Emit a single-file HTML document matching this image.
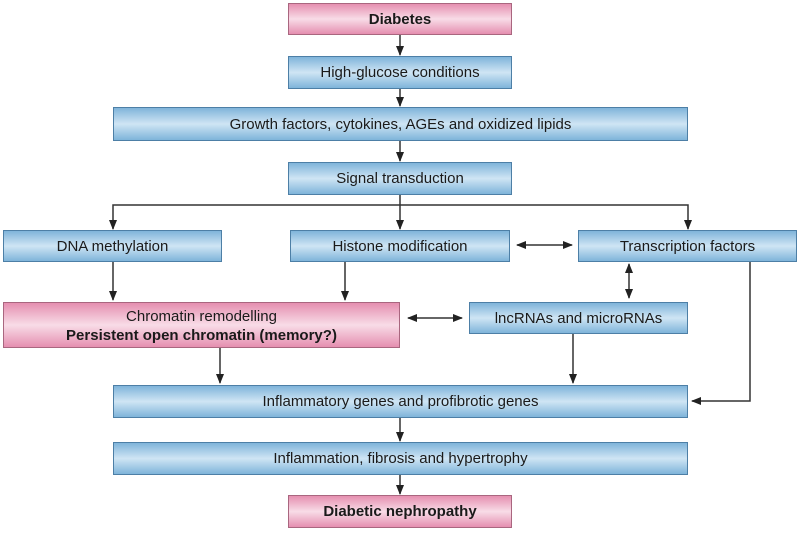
<!DOCTYPE html>
<html><head><style>
body{margin:0;width:800px;height:533px;background:#fff;position:relative;overflow:hidden;font-family:"Liberation Sans",sans-serif;}
.b{position:absolute;box-sizing:border-box;border:1px solid #4d7fa6;background:linear-gradient(#7fb4da,#cfe5f4 50%,#7fb4da);display:flex;align-items:center;justify-content:center;text-align:center;font-size:15px;color:#1a1a1a;line-height:19px;}
.p{border-color:#a9667f;background:linear-gradient(#e58fb0,#f8dce7 50%,#e58fb0);}
.c{display:block;padding-top:4px;}
svg{position:absolute;left:0;top:0;}
</style></head><body>
<svg width="800" height="533">
<defs><marker id="a" markerWidth="10" markerHeight="8" refX="9" refY="4" orient="auto-start-reverse" markerUnits="userSpaceOnUse"><path d="M0,0L10,4L0,8z" fill="#222"/></marker></defs>
<g stroke="#333" stroke-width="1.5" fill="none" marker-end="url(#a)">
<line x1="400" y1="35" x2="400" y2="55"/>
<line x1="400" y1="89" x2="400" y2="106"/>
<line x1="400" y1="141" x2="400" y2="161"/>
<line x1="400" y1="195" x2="400" y2="229"/>
<polyline points="400,205 113,205 113,229"/>
<polyline points="400,205 688,205 688,229"/>
<line x1="113" y1="262" x2="113" y2="300"/>
<line x1="345" y1="262" x2="345" y2="300"/>
<line x1="220" y1="348" x2="220" y2="383"/>
<line x1="573" y1="334" x2="573" y2="383"/>
<polyline points="750,262 750,401 692,401"/>
<line x1="400" y1="418" x2="400" y2="441"/>
<line x1="400" y1="475" x2="400" y2="494"/>
<line x1="517" y1="245" x2="572" y2="245" marker-start="url(#a)"/>
<line x1="408" y1="318" x2="462" y2="318" marker-start="url(#a)"/>
<line x1="629" y1="264" x2="629" y2="298" marker-start="url(#a)"/>
</g></svg>
<div class="b p" style="left:288px;top:3px;width:224px;height:32px;font-weight:bold">Diabetes</div>
<div class="b" style="left:288px;top:56px;width:224px;height:33px">High-glucose conditions</div>
<div class="b" style="left:113px;top:107px;width:575px;height:34px">Growth factors, cytokines, AGEs and oxidized lipids</div>
<div class="b" style="left:288px;top:162px;width:224px;height:33px">Signal transduction</div>
<div class="b" style="left:3px;top:230px;width:219px;height:32px">DNA methylation</div>
<div class="b" style="left:290px;top:230px;width:220px;height:32px">Histone modification</div>
<div class="b" style="left:578px;top:230px;width:219px;height:32px">Transcription factors</div>
<div class="b p c" style="left:3px;top:302px;width:397px;height:46px">Chromatin remodelling<br><b>Persistent open chromatin (memory?)</b></div>
<div class="b" style="left:469px;top:302px;width:219px;height:32px">lncRNAs and microRNAs</div>
<div class="b" style="left:113px;top:385px;width:575px;height:33px">Inflammatory genes and profibrotic genes</div>
<div class="b" style="left:113px;top:442px;width:575px;height:33px">Inflammation, fibrosis and hypertrophy</div>
<div class="b p" style="left:288px;top:495px;width:224px;height:33px;font-weight:bold">Diabetic nephropathy</div>
</body></html>
